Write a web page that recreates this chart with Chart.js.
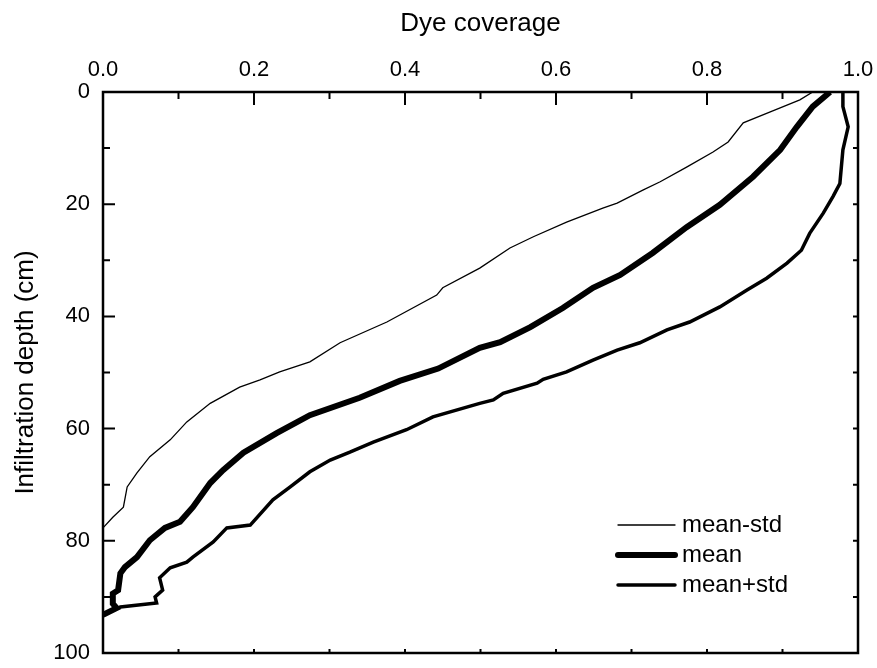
<!DOCTYPE html>
<html>
<head>
<meta charset="utf-8">
<script src="https://cdn.jsdelivr.net/npm/chart.js@4"></script>
<style>
  body { margin: 0; background: #fff; }
  #wrap { width: 877px; height: 668px; }
</style>
</head>
<body>
<div id="wrap"><canvas id="graficoTinte"></canvas></div>
<script>
// mean - std
const depthLow = [0, 1.4, 3.6, 5.5, 8.9, 10.7, 13.4, 16, 17.5, 19.8, 20.7, 23.2, 25.8, 27.8, 31.4, 34.9, 36.2, 41.0, 44.7, 48.1, 49.9, 51.3, 52.6, 55.5, 58.8, 62.0, 65.0, 67.9, 70.4, 74.0, 75.8, 77.7];
const coverLow = [0.94, 0.923, 0.883, 0.848, 0.828, 0.808, 0.773, 0.738, 0.715, 0.681, 0.662, 0.614, 0.570, 0.539, 0.499, 0.450, 0.442, 0.376, 0.314, 0.274, 0.234, 0.208, 0.181, 0.142, 0.111, 0.089, 0.062, 0.045, 0.032, 0.027, 0.013, 0.0];
// mean
const depthMean = [0, 2.6, 6.2, 10.3, 15.1, 20.1, 24.1, 28.7, 32.6, 34.9, 38.5, 41.9, 44.6, 45.6, 49.3, 51.5, 54.5, 57.6, 60.8, 64.3, 67.4, 69.7, 74.0, 76.6, 77.7, 79.9, 82.9, 84.7, 85.8, 88.8, 89.4, 91.2, 92.0, 93.2];
const coverMean = [0.963, 0.940, 0.919, 0.897, 0.861, 0.817, 0.773, 0.728, 0.685, 0.649, 0.609, 0.566, 0.526, 0.499, 0.444, 0.393, 0.340, 0.274, 0.230, 0.186, 0.159, 0.142, 0.119, 0.102, 0.082, 0.062, 0.045, 0.029, 0.023, 0.020, 0.013, 0.013, 0.018, 0.0];
// mean + std
const depthHigh = [0, 2.6, 6.2, 10.3, 16.3, 18.6, 21.6, 25.2, 28.2, 30.5, 33.2, 35.3, 38.3, 41.0, 42.4, 44.7, 46.0, 47.8, 49.9, 51.2, 51.9, 53.7, 54.9, 55.5, 57.9, 60.2, 62.4, 64.2, 65.6, 67.7, 70.4, 72.7, 77.2, 77.7, 80.2, 82.9, 83.8, 84.8, 86.6, 88.8, 90.0, 91.1, 91.8, 93.2];
const coverHigh = [0.980, 0.980, 0.987, 0.980, 0.976, 0.967, 0.954, 0.936, 0.925, 0.906, 0.879, 0.853, 0.817, 0.777, 0.747, 0.711, 0.681, 0.649, 0.614, 0.583, 0.575, 0.530, 0.517, 0.499, 0.437, 0.402, 0.358, 0.327, 0.301, 0.274, 0.248, 0.225, 0.195, 0.164, 0.146, 0.119, 0.111, 0.089, 0.075, 0.079, 0.069, 0.071, 0.023, 0.0];

const etiquetas = ["mean-std", "mean", "mean+std"];
const fuente = "'Liberation Sans', Arial, sans-serif";

function puntos(xs, ys) {
  return xs.map((v, i) => ({ x: v, y: ys[i] }));
}

// marco y marcas hacia adentro
const marco = {
  id: "marco",
  afterDraw(chart) {
    const { ctx, chartArea: a, scales } = chart;
    const sx = scales.x, sy = scales.y;
    ctx.save();
    ctx.strokeStyle = "#000";
    ctx.lineWidth = 2;
    ctx.beginPath();
    sx.ticks.forEach((t, i) => {
      const px = sx.getPixelForValue(t.value);
      const len = i % 2 === 0 ? 13 : 7;
      ctx.moveTo(px, a.top); ctx.lineTo(px, a.top + len);
      ctx.moveTo(px, a.bottom); ctx.lineTo(px, a.bottom - 4);
    });
    sy.ticks.forEach((t, i) => {
      const py = sy.getPixelForValue(t.value);
      const len = i % 2 === 0 ? 12 : 7;
      ctx.moveTo(a.left, py); ctx.lineTo(a.left + len, py);
      ctx.moveTo(a.right, py); ctx.lineTo(a.right - 5, py);
    });
    ctx.stroke();
    ctx.lineWidth = 2.5;
    ctx.strokeRect(a.left, a.top, a.right - a.left, a.bottom - a.top);
    ctx.restore();
  },
};

// leyenda dentro del area
const leyenda = {
  id: "leyenda",
  afterDraw(chart) {
    const { ctx, chartArea: a } = chart;
    ctx.save();
    ctx.font = "24px " + fuente;
    ctx.textBaseline = "middle";
    ctx.fillStyle = "#000";
    chart.data.datasets.forEach((ds, i) => {
      const y = a.bottom - 128 + i * 30;
      ctx.strokeStyle = ds.borderColor;
      ctx.lineWidth = ds.borderWidth;
      ctx.lineCap = "round";
      ctx.beginPath();
      ctx.moveTo(a.right - 240, y);
      ctx.lineTo(a.right - 183, y);
      ctx.stroke();
      ctx.fillText(ds.label, a.right - 176, y);
    });
    ctx.restore();
  },
};

new Chart(document.querySelector("#graficoTinte"), {
  type: "scatter",
  data: {
    datasets: [
      { label: etiquetas[0], data: puntos(coverLow, depthLow), borderColor: "#000", borderWidth: 1.3 },
      { label: etiquetas[1], data: puntos(coverMean, depthMean), borderColor: "#000", borderWidth: 6 },
      { label: etiquetas[2], data: puntos(coverHigh, depthHigh), borderColor: "#000", borderWidth: 3.5 },
    ].map((d) => ({ ...d, showLine: true, pointRadius: 0, tension: 0, fill: false })),
  },
  options: {
    responsive: true,
    maintainAspectRatio: false,
    animation: false,
    layout: { padding: { top: 0, left: 0, right: 19, bottom: 15 } },
    plugins: { legend: { display: false }, tooltip: { enabled: false } },
    scales: {
      x: {
        type: "linear",
        position: "top",
        min: 0,
        max: 1,
        afterFit: (s) => { s.height = 92; s.paddingLeft = 0; s.paddingRight = 0; },
        grid: { display: false, drawTicks: false },
        border: { display: false },
        ticks: {
          stepSize: 0.1,
          autoSkip: false,
          maxRotation: 0,
          padding: 9,
          color: "#000",
          font: { family: fuente, size: 22 },
          callback: (v, i) => (i % 2 === 0 ? v.toFixed(1) : ""),
        },
        title: { display: true, text: "Dye coverage", color: "#000", padding: { top: 8, bottom: 0 }, font: { family: fuente, size: 26 } },
      },
      y: {
        type: "linear",
        reverse: true,
        min: 0,
        max: 100,
        afterFit: (s) => { s.width = 103; s.paddingTop = 0; s.paddingBottom = 0; },
        grid: { display: false, drawTicks: false },
        border: { display: false },
        ticks: {
          stepSize: 10,
          autoSkip: false,
          padding: 13,
          color: "#000",
          font: { family: fuente, size: 22 },
          callback: (v) => (v % 20 === 0 ? v : ""),
        },
        title: { display: true, text: "Infiltration depth (cm)", color: "#000", padding: { top: 10, bottom: 0 }, font: { family: fuente, size: 26 } },
      },
    },
  },
  plugins: [marco, leyenda],
});
</script>
</body>
</html>
